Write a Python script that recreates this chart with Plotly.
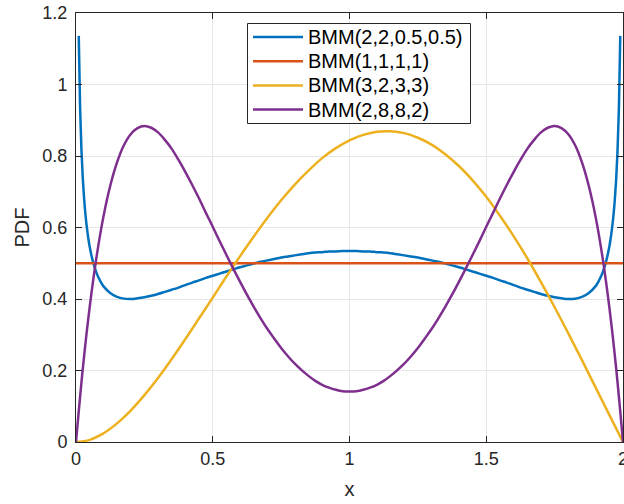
import plotly.graph_objects as go

# ---- data ----
blue_x = [0.01, 0.015, 0.02, 0.025, 0.03, 0.035, 0.04, 0.045, 0.05, 0.0625, 0.075, 0.0875,
          0.1, 0.125, 0.15, 0.175, 0.2, 0.225, 0.25, 0.275, 0.3, 0.325, 0.35, 0.375, 0.4, 0.425,
          0.45, 0.475, 0.5, 0.525, 0.55, 0.575, 0.6, 0.625, 0.65, 0.675, 0.7, 0.725, 0.75, 0.775,
          0.8, 0.825, 0.85, 0.875, 0.9, 0.925, 0.95, 0.975, 1.0,
          1.025, 1.05, 1.075, 1.1, 1.125, 1.15, 1.175, 1.2, 1.225, 1.25, 1.275, 1.3, 1.325, 1.35,
          1.375, 1.4, 1.425, 1.45, 1.475, 1.5, 1.525, 1.55, 1.575, 1.6, 1.625, 1.65, 1.675, 1.7,
          1.725, 1.75, 1.775, 1.8, 1.825, 1.85, 1.875, 1.9, 1.9125, 1.925, 1.9375, 1.95, 1.955,
          1.96, 1.965, 1.97, 1.975, 1.98, 1.985, 1.99]
blue_y = [1.136, 0.934, 0.815, 0.735, 0.677, 0.633, 0.598, 0.570, 0.546, 0.503, 0.473, 0.452,
          0.436, 0.417, 0.406, 0.401, 0.400, 0.402, 0.405, 0.409, 0.414, 0.420, 0.426, 0.432, 0.439, 0.446,
          0.452, 0.459, 0.465, 0.471, 0.477, 0.483, 0.489, 0.494, 0.499, 0.504, 0.508, 0.512, 0.516, 0.519,
          0.522, 0.525, 0.528, 0.530, 0.531, 0.533, 0.533, 0.534, 0.534,
          0.534, 0.533, 0.533, 0.531, 0.530, 0.528, 0.525, 0.522, 0.519, 0.516, 0.512, 0.508, 0.504, 0.499,
          0.494, 0.489, 0.483, 0.477, 0.471, 0.465, 0.459, 0.452, 0.446, 0.439, 0.432, 0.426, 0.420, 0.414,
          0.409, 0.405, 0.402, 0.400, 0.401, 0.406, 0.417, 0.436, 0.452, 0.473, 0.503, 0.546, 0.570,
          0.598, 0.633, 0.677, 0.735, 0.815, 0.934, 1.136]

red_x = [0.0, 2.0]
red_y = [0.5, 0.5]

yellow_x = [0.0, 0.05, 0.1, 0.15, 0.2, 0.25, 0.3, 0.35, 0.4, 0.45, 0.5, 0.55, 0.6, 0.65, 0.7, 0.75,
            0.8, 0.85, 0.9, 0.95, 1.0, 1.05, 1.1, 1.15, 1.2, 1.25, 1.3, 1.35, 1.4, 1.45, 1.5, 1.55,
            1.6, 1.65, 1.7, 1.75, 1.8, 1.85, 1.9, 1.95, 2.0]
yellow_y = [0.0, 0.006, 0.024, 0.052, 0.088, 0.131, 0.179, 0.232, 0.288, 0.346, 0.404, 0.463, 0.520,
            0.575, 0.627, 0.676, 0.720, 0.759, 0.794, 0.822, 0.844, 0.859, 0.868, 0.869, 0.864, 0.851,
            0.832, 0.805, 0.772, 0.732, 0.686, 0.633, 0.576, 0.514, 0.447, 0.377, 0.304, 0.229, 0.152,
            0.076, 0.0]

purple_x = [0.0, 0.025, 0.05, 0.075, 0.1, 0.125, 0.15, 0.175, 0.2, 0.225, 0.25, 0.275, 0.3, 0.325,
            0.35, 0.375, 0.4, 0.425, 0.45, 0.475, 0.5, 0.525, 0.55, 0.575, 0.6, 0.625, 0.65, 0.675,
            0.7, 0.725, 0.75, 0.775, 0.8, 0.825, 0.85, 0.875, 0.9, 0.925, 0.95, 0.975, 1.0,
            1.025, 1.05, 1.075, 1.1, 1.125, 1.15, 1.175, 1.2, 1.225, 1.25, 1.275, 1.3, 1.325, 1.35,
            1.375, 1.4, 1.425, 1.45, 1.475, 1.5, 1.525, 1.55, 1.575, 1.6, 1.625, 1.65, 1.675, 1.7,
            1.725, 1.75, 1.775, 1.8, 1.825, 1.85, 1.875, 1.9, 1.925, 1.95, 1.975, 2.0]
purple_y = [0.0, 0.206, 0.377, 0.517, 0.629, 0.716, 0.782, 0.830, 0.861, 0.878, 0.884, 0.879, 0.866,
            0.845, 0.820, 0.789, 0.755, 0.719, 0.681, 0.641, 0.602, 0.562, 0.523, 0.485, 0.448, 0.412,
            0.378, 0.346, 0.316, 0.289, 0.263, 0.240, 0.219, 0.201, 0.185, 0.171, 0.160, 0.152, 0.146,
            0.142, 0.141,
            0.142, 0.146, 0.152, 0.160, 0.171, 0.185, 0.201, 0.219, 0.240, 0.263, 0.289, 0.316, 0.346,
            0.378, 0.412, 0.448, 0.485, 0.523, 0.562, 0.602, 0.641, 0.681, 0.719, 0.755, 0.789, 0.820,
            0.845, 0.866, 0.879, 0.884, 0.878, 0.861, 0.830, 0.782, 0.716, 0.629, 0.517, 0.377, 0.206,
            0.0]

series_names = ["BMM(2,2,0.5,0.5)", "BMM(1,1,1,1)", "BMM(3,2,3,3)", "BMM(2,8,8,2)"]
series_colors = ["#0072BD", "#D95319", "#EDB120", "#7E2F8E"]
series_data = [(blue_x, blue_y), (red_x, red_y), (yellow_x, yellow_y), (purple_x, purple_y)]

x_ticks = [0, 0.5, 1, 1.5, 2]
x_ticklabels = ["0", "0.5", "1", "1.5", "2"]
y_ticks = [0, 0.2, 0.4, 0.6, 0.8, 1.0, 1.2]
y_ticklabels = ["0", "0.2", "0.4", "0.6", "0.8", "1", "1.2"]

FONT = "Liberation Sans, Arial, Helvetica, sans-serif"
AX = "#262626"

# plot-area geometry (pixels) used to place the hand-built legend box
W, H = 624, 504
ML, MR, MT, MB = 76, 1, 13, 62
PW, PH = W - ML - MR, H - MT - MB


def px(xp):
    return (xp - ML) / PW


def py(yp):
    return (H - MB - yp) / PH


fig = go.Figure()
for name, (xs, ys), col in zip(series_names, series_data, series_colors):
    fig.add_trace(go.Scatter(
        x=xs, y=ys, name=name, mode="lines",
        line=dict(color=col, width=2.5, shape="spline", smoothing=1.0),
        showlegend=False,
    ))

axis_common = dict(
    showline=True, linecolor=AX, linewidth=1, mirror="allticks",
    ticks="inside", ticklen=6, tickcolor=AX, tickwidth=1,
    showgrid=True, gridcolor="#E6E6E6", gridwidth=1,
    zeroline=False, automargin=False,
    tickfont=dict(family=FONT, size=18, color=AX),
)

# legend (box, line samples and real text labels)
box_l, box_r, box_t, box_b = 247.5, 470.5, 23.5, 123.5
row_y = [37.0, 61.2, 85.4, 109.6]
shapes = [dict(type="rect", xref="paper", yref="paper",
               x0=px(box_l), x1=px(box_r), y0=py(box_b), y1=py(box_t),
               line=dict(color=AX, width=1), fillcolor="white", layer="above")]
annotations = []
for name, col, ry in zip(series_names, series_colors, row_y):
    shapes.append(dict(type="line", xref="paper", yref="paper",
                       x0=px(253), x1=px(303), y0=py(ry), y1=py(ry),
                       line=dict(color=col, width=2.5), layer="above"))
    annotations.append(dict(xref="paper", yref="paper", x=px(305.5), y=py(ry),
                            xanchor="left", yanchor="middle", showarrow=False,
                            text=name, font=dict(family=FONT, size=20, color="black")))

fig.update_layout(
    width=W, height=H,
    margin=dict(l=ML, r=MR, t=MT, b=MB, autoexpand=False),
    paper_bgcolor="white", plot_bgcolor="white",
    font=dict(family=FONT, color=AX),
    xaxis=dict(range=[0, 2], tickvals=x_ticks, ticktext=x_ticklabels,
               ticklabeloverflow="allow",
               title=dict(text="x", font=dict(family=FONT, size=20, color=AX), standoff=14),
               **axis_common),
    yaxis=dict(range=[0, 1.2], tickvals=y_ticks, ticktext=y_ticklabels,
               ticklabelstandoff=4,
               title=dict(text="PDF", font=dict(family=FONT, size=20, color=AX), standoff=7),
               **axis_common),
    shapes=shapes,
    annotations=annotations,
    showlegend=False,
)

fig.write_html("out.html")
